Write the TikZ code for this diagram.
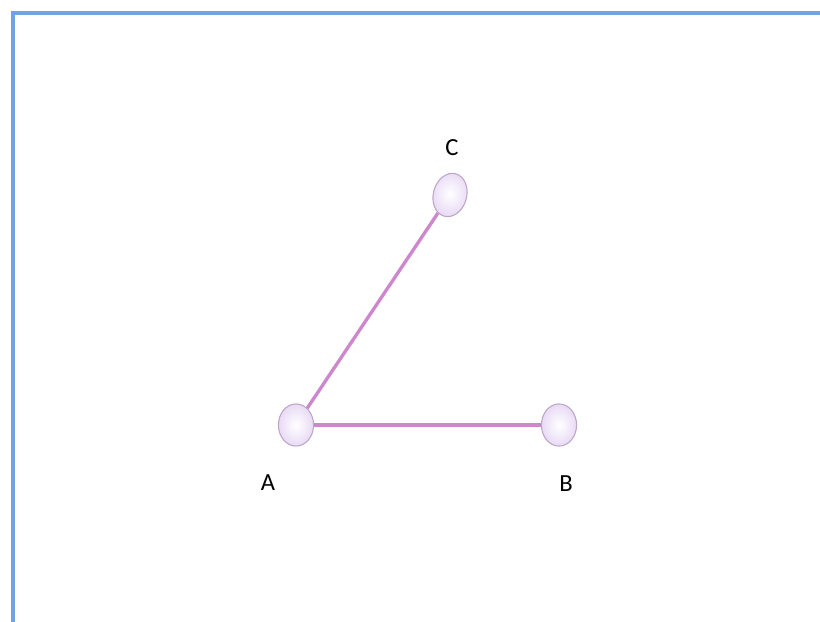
\documentclass[tikz,border=0pt]{standalone}
\usepackage{fontspec}
\setmainfont{Carlito}
\usetikzlibrary{shapes.geometric}
\definecolor{framecol}{RGB}{115,160,232}
\definecolor{edgecol}{RGB}{205,135,205}
\definecolor{ballfill}{RGB}{232,218,245}
\definecolor{ballline}{RGB}{190,165,200}
\begin{document}
\begin{tikzpicture}[
    x=0.02cm, y=-0.02cm,
    line width=1.9pt,
    ball/.style={ellipse, draw=ballline, line width=0.6pt, inner color=white, outer color=ballfill, minimum width=20pt, minimum height=24pt, inner sep=0pt},
    lbl/.style={font=\fontsize{14}{16}\selectfont, inner sep=0pt}
]
  \useasboundingbox (0,0) rectangle (820,621);
  \begin{scope}
    \clip (0,0) rectangle (820,621);
    \draw[framecol, line width=1.8pt] (13,13) rectangle (830,640);
  \end{scope}

  % nodes
  \node[ball] (A) at (296,425) {};
  \node[ball] (B) at (559,425) {};
  \node[ball, rotate=-15, minimum height=25pt, minimum width=19pt] (C) at (450,195) {};

  % labels
  \node[lbl] (lA) at (268,483) {A};
  \node[lbl] (lB) at (566,484) {B};
  \node[lbl] (lC) at (452,148) {C};

  % edges
  \draw[edgecol] (A) -- (B);
  \draw[edgecol] (A) -- (C);
\end{tikzpicture}
\end{document}
